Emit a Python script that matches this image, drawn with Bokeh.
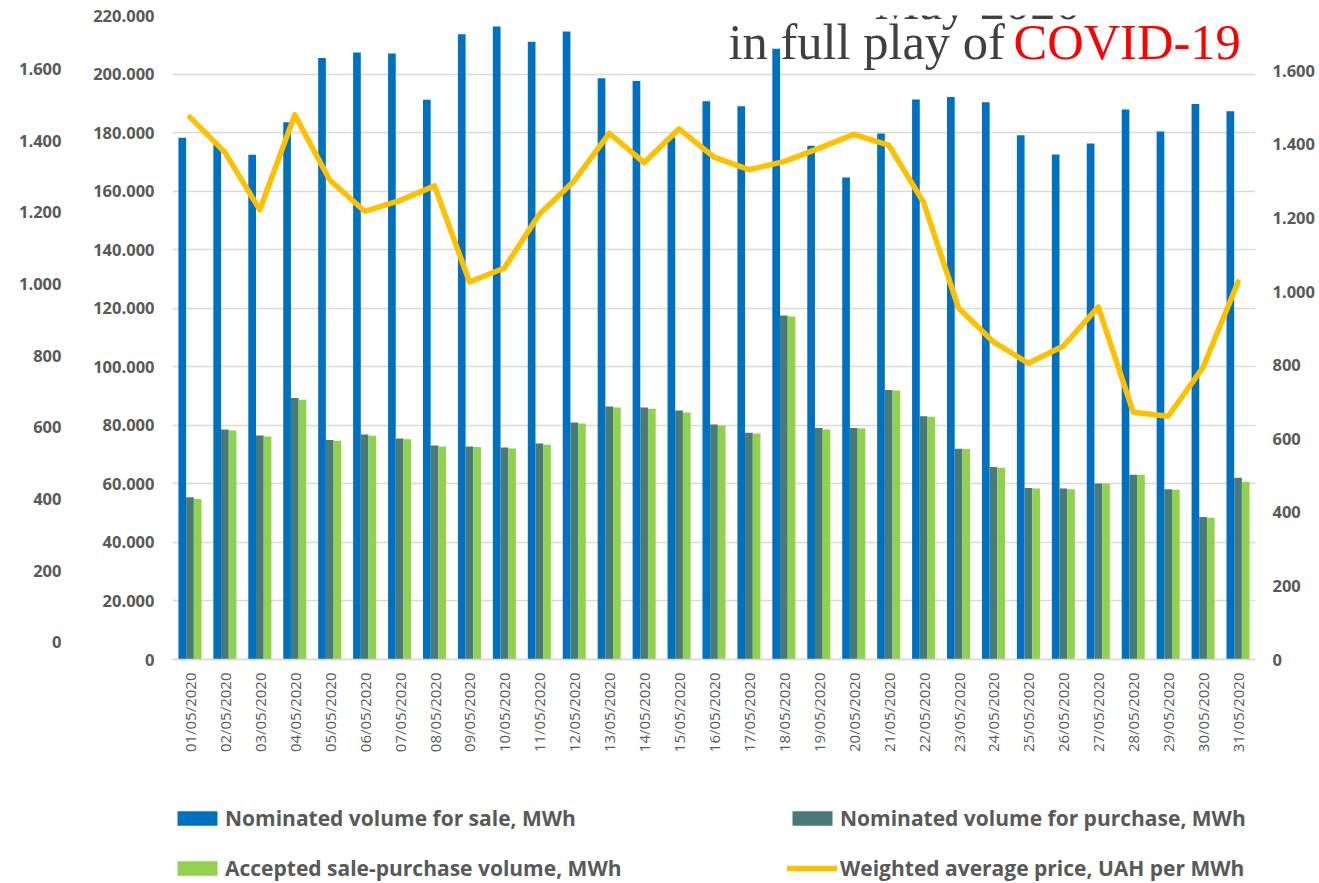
from math import pi
from bokeh.plotting import figure
from bokeh.models import (ColumnDataSource, FactorRange, Range1d, LinearAxis, FixedTicker,
                          Legend, LegendItem, Label)
from bokeh.transform import dodge
from bokeh.embed import file_html
from bokeh.resources import INLINE

dates = ["01/05/2020", "02/05/2020", "03/05/2020", "04/05/2020", "05/05/2020", "06/05/2020",
         "07/05/2020", "08/05/2020", "09/05/2020", "10/05/2020", "11/05/2020", "12/05/2020",
         "13/05/2020", "14/05/2020", "15/05/2020", "16/05/2020", "17/05/2020", "18/05/2020",
         "19/05/2020", "20/05/2020", "21/05/2020", "22/05/2020", "23/05/2020", "24/05/2020",
         "25/05/2020", "26/05/2020", "27/05/2020", "28/05/2020", "29/05/2020", "30/05/2020",
         "31/05/2020"]

sale = [178200, 176100, 172400, 183500, 205500, 207400, 207000, 191200, 213600, 216200,
        211000, 214500, 198600, 197600, 178300, 190700, 189000, 208600, 175500, 164700,
        179700, 191300, 192200, 190400, 179100, 172500, 176300, 187900, 180400, 189800,
        187300]

purchase = [55400, 78600, 76500, 89300, 75000, 76900, 75500, 73100, 72800, 72400,
            73800, 81000, 86400, 86100, 85100, 80300, 77500, 117500, 79100, 79100,
            92100, 83100, 72000, 65800, 58600, 58400, 60100, 63100, 58200, 48700,
            62100]

accepted = [54800, 78200, 76200, 88700, 74700, 76400, 75200, 72800, 72600, 72100,
            73400, 80600, 86100, 85700, 84400, 79900, 77200, 117200, 78600, 78900,
            91900, 82900, 71900, 65500, 58400, 58200, 60100, 63100, 58000, 48400,
            60700]

price = [1474, 1378, 1222, 1480, 1303, 1218, 1247, 1287, 1026, 1064,
         1210, 1301, 1430, 1350, 1442, 1365, 1331, 1353, 1389, 1427,
         1398, 1242, 955, 863, 805, 852, 958, 672, 661, 794,
         1026]

vol_ticks = [0, 20000, 40000, 60000, 80000, 100000, 120000, 140000, 160000, 180000, 200000, 220000]
vol_labels = ["0", "20.000", "40.000", "60.000", "80.000", "100.000", "120.000", "140.000",
              "160.000", "180.000", "200.000", "220.000"]
price_ticks = [0, 200, 400, 600, 800, 1000, 1200, 1400, 1600]
price_labels = ["0", "200", "400", "600", "800", "1.000", "1.200", "1.400", "1.600"]

series_names = ["Nominated volume for sale, MWh", "Nominated volume for purchase, MWh",
                "Accepted sale-purchase volume, MWh", "Weighted average price, UAH per MWh"]

title_top = "May 2020"
title_main = "in full play of"
title_red = "COVID-19"

src = ColumnDataSource(dict(date=dates, sale=sale, purchase=purchase,
                            accepted=accepted, price=price))

# Layout: the frame spans y 15..883 on the canvas; value 0 sits at y=659,
# the top tick value at y=15 (scales extend below zero to leave room for labels/legend).
W, H = 1319, 883
TOP, ZERO, BOTTOM = 15, 659, 883
frac = (BOTTOM - ZERO) / (ZERO - TOP)
vol_top = 220000
price_top = 1750
far_lo, far_hi = -48, 1749

p = figure(width=W, height=H, x_range=FactorRange(factors=dates),
           y_range=Range1d(-vol_top * frac, vol_top), output_backend="svg",
           toolbar_location=None, min_border_left=172, min_border_right=64,
           min_border_top=TOP, min_border_bottom=0)
p.outline_line_color = None
p.background_fill_color = "white"
p.border_fill_color = "white"

p.extra_y_ranges = {"price": Range1d(-price_top * frac, price_top),
                    "far": Range1d(far_lo - (far_hi - far_lo) * frac, far_hi)}

r1 = p.vbar(x=dodge("date", -0.22, range=p.x_range), top="sale", width=0.22, source=src,
            fill_color="#0070C0", line_color=None)
r2 = p.vbar(x=dodge("date", 0.0, range=p.x_range), top="purchase", width=0.22, source=src,
            fill_color="#487A78", line_color=None)
r3 = p.vbar(x=dodge("date", 0.22, range=p.x_range), top="accepted", width=0.22, source=src,
            fill_color="#92D050", line_color=None)
r4 = p.line(x="date", y="price", y_range_name="price", source=src, line_color="#FFC000",
            line_width=5.5, line_join="round", line_cap="round")

def style_y(ax, standoff):
    ax.axis_line_color = None
    ax.major_tick_line_color = None
    ax.minor_tick_line_color = None
    ax.major_tick_out = 0
    ax.major_tick_in = 0
    ax.minor_tick_out = 0
    ax.minor_tick_in = 0
    ax.major_label_text_font = "Open Sans"
    ax.major_label_text_font_style = "bold"
    ax.major_label_text_font_size = "16.5px"
    ax.major_label_text_color = "#595959"
    ax.major_label_standoff = standoff

yax = p.yaxis[0]
yax.ticker = FixedTicker(ticks=vol_ticks)
yax.major_label_overrides = {t: l for t, l in zip(vol_ticks, vol_labels)}
style_y(yax, 18)

rax = LinearAxis(y_range_name="price", ticker=FixedTicker(ticks=price_ticks),
                 major_label_overrides={t: l for t, l in zip(price_ticks, price_labels)})
style_y(rax, 17)
p.add_layout(rax, "right")

fax = LinearAxis(y_range_name="far", ticker=FixedTicker(ticks=price_ticks),
                 major_label_overrides={t: l for t, l in zip(price_ticks, price_labels)})
style_y(fax, 29)
p.add_layout(fax, "left")

xax = p.xaxis[0]
xax.fixed_location = 0
xax.axis_line_color = "#D9D9D9"
xax.axis_line_width = 1.5
xax.major_tick_line_color = None
xax.minor_tick_line_color = None
xax.major_tick_out = 0
xax.major_tick_in = 0
xax.major_label_orientation = pi / 2
xax.major_label_text_font = "Open Sans"
xax.major_label_text_font_size = "15px"
xax.major_label_text_color = "#595959"
xax.major_label_standoff = 13

p.xgrid.visible = False
p.ygrid.ticker = FixedTicker(ticks=vol_ticks)
p.ygrid.grid_line_color = "#D9D9D9"
p.ygrid.grid_line_width = 1.5

legend = Legend(items=[LegendItem(label=series_names[0], renderers=[r1]),
                       LegendItem(label=series_names[1], renderers=[r2]),
                       LegendItem(label=series_names[2], renderers=[r3]),
                       LegendItem(label=series_names[3], renderers=[r4])],
                location=(0, 1), orientation="horizontal", ncols=2,
                glyph_width=50, glyph_height=18, label_standoff=3,
                label_width=540, label_height=24, spacing=22, padding=0, margin=0,
                border_line_color=None, background_fill_alpha=0,
                label_text_font="Open Sans", label_text_font_style="bold",
                label_text_font_size="21px", label_text_color="#595959")
p.add_layout(legend, "center")

for txt, x, y, col in [(title_top, 874 - 172, BOTTOM - 1, "#404040"),
                       (title_main, 728 - 172, BOTTOM - 56 + 15, "#404040"),
                       (title_red, 1013 - 172, BOTTOM - 56 + 15, "#FF0000")]:
    p.add_layout(Label(x=x, y=y, x_units="screen", y_units="screen", text=txt,
                       text_font="Liberation Serif", text_font_size="50.5px",
                       text_color=col, text_align="left", text_baseline="alphabetic"))

open("out.html", "w").write(file_html(p, INLINE))
